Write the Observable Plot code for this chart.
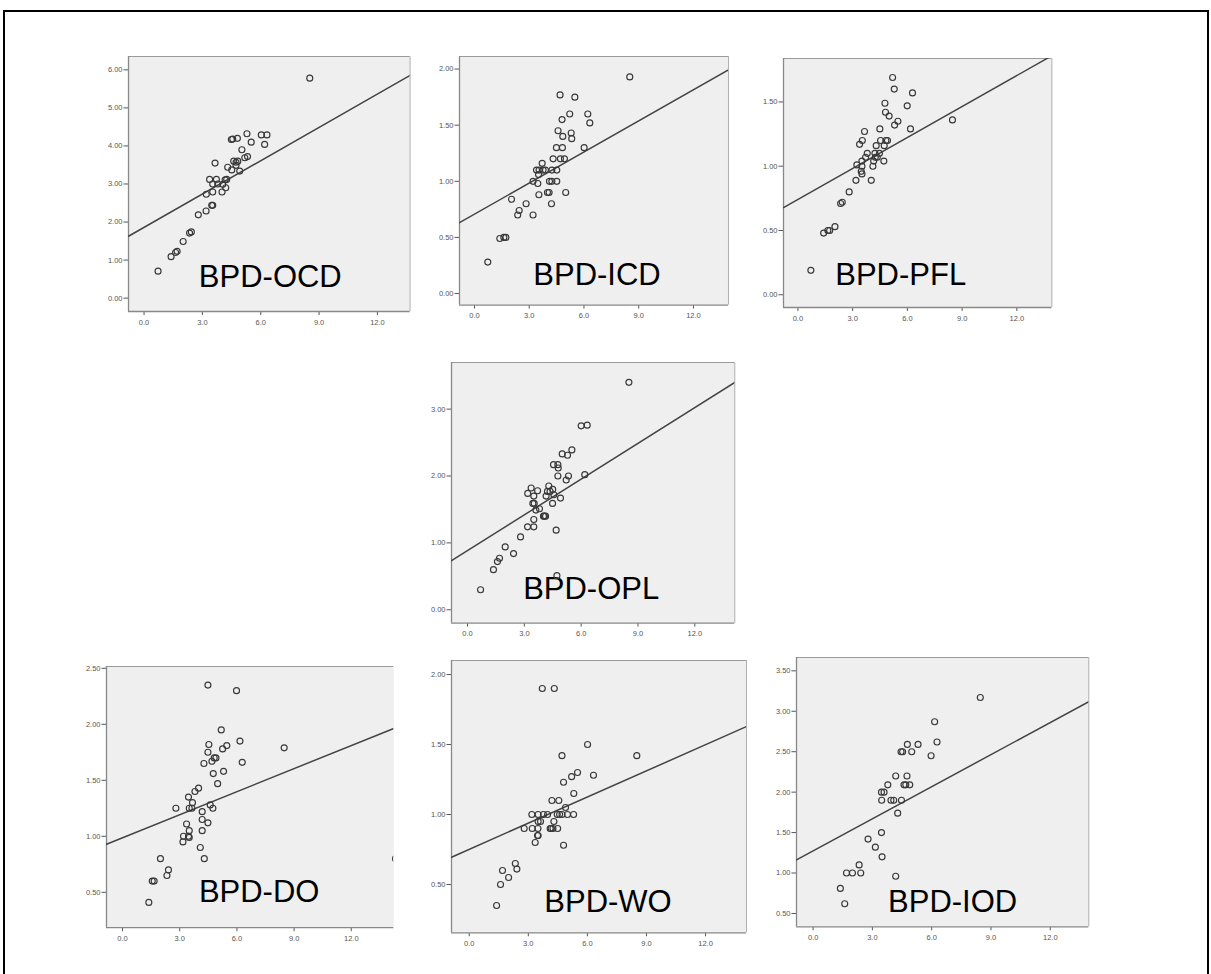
<!DOCTYPE html>
<html>
<head>
<meta charset="utf-8">
<script src="https://cdn.jsdelivr.net/npm/d3@7"></script>
<script src="https://cdn.jsdelivr.net/npm/@observablehq/plot@0.6"></script>
<style>
html, body { margin: 0; padding: 0; background: #fff; overflow: hidden; width: 1211px; height: 974px; }
#border { position: absolute; left: 3px; top: 10px; width: 1202px; height: 1000px; border: 2px solid #000; }
.panel { position: absolute; }
</style>
</head>
<body>
<div id="border"></div>
<div id="root"></div>
<script>
// ---------------- data ----------------
const xTicks = [0, 3, 6, 9, 12];

const ocd = [[0.72,0.71],[1.39,1.09],[1.62,1.20],[1.70,1.23],[2.01,1.49],[2.34,1.71],[2.43,1.74],[2.79,2.19],[3.19,2.29],[3.48,2.44],[3.53,2.44],[3.20,2.73],[3.53,2.79],[3.37,3.12],[3.53,3.00],[3.72,3.12],[3.79,3.00],[3.65,3.55],[4.01,2.79],[4.05,2.99],[4.17,3.11],[4.25,3.12],[4.20,2.90],[4.30,3.44],[4.51,3.37],[4.61,3.60],[4.73,3.57],[4.82,3.60],[4.73,3.49],[4.49,4.17],[4.56,4.18],[4.80,4.20],[4.92,3.34],[5.03,3.90],[5.18,3.69],[5.32,3.72],[5.29,4.32],[5.51,4.10],[6.03,4.29],[6.32,4.29],[6.20,4.04],[8.52,5.78]];
const ocdFit = [1.86, 0.292];
const ocdTicks = [0, 1, 2, 3, 4, 5, 6];

const icd = [[0.73,0.28],[1.39,0.49],[1.61,0.50],[1.72,0.50],[2.03,0.84],[2.45,0.74],[2.37,0.70],[2.83,0.80],[3.21,0.70],[3.21,1.00],[3.40,1.10],[3.47,0.98],[3.51,1.06],[3.54,1.10],[3.53,0.88],[3.71,1.16],[3.76,1.10],[3.89,1.10],[4.00,0.90],[4.09,0.90],[4.11,1.00],[4.24,1.00],[4.22,0.80],[4.24,1.10],[4.31,1.20],[4.51,1.00],[4.51,1.10],[4.49,1.30],[4.58,1.45],[4.69,1.77],[4.71,1.20],[4.82,1.30],[4.84,1.40],[4.80,1.55],[4.93,1.20],[5.00,0.90],[5.22,1.60],[5.30,1.43],[5.33,1.38],[5.50,1.75],[6.01,1.30],[6.21,1.60],[6.32,1.52],[8.51,1.93]];
const icdFit = [0.707, 0.0924];
const icdTicks = [0, 0.5, 1, 1.5, 2];

const pfl = [[0.71,0.19],[1.41,0.48],[1.64,0.50],[1.74,0.50],[2.03,0.53],[2.34,0.71],[2.43,0.72],[2.81,0.80],[3.18,0.89],[3.23,1.01],[3.38,1.17],[3.53,1.20],[3.47,0.96],[3.51,0.94],[3.51,1.04],[3.51,1.00],[3.65,1.27],[3.71,1.07],[3.80,1.10],[4.02,0.89],[4.11,1.00],[4.15,1.04],[4.22,1.10],[4.24,1.07],[4.29,1.16],[4.35,1.07],[4.47,1.10],[4.49,1.29],[4.53,1.20],[4.73,1.16],[4.71,1.04],[4.77,1.49],[4.80,1.42],[4.82,1.20],[4.91,1.20],[5.00,1.39],[5.19,1.69],[5.28,1.60],[5.30,1.32],[5.48,1.35],[5.99,1.47],[6.17,1.29],[6.28,1.57],[8.47,1.36]];
const pflFit = [0.742, 0.0803];
const pflTicks = [0, 0.5, 1, 1.5];

const opl = [[0.69,0.30],[1.37,0.60],[1.58,0.72],[1.69,0.77],[1.99,0.94],[2.43,0.84],[2.80,1.09],[3.17,1.24],[3.50,1.24],[3.50,1.35],[3.18,1.74],[3.36,1.82],[3.50,1.70],[3.70,1.78],[3.45,1.59],[3.52,1.59],[3.61,1.49],[3.80,1.51],[4.01,1.40],[4.12,1.40],[4.06,1.40],[4.15,1.70],[4.22,1.77],[4.29,1.85],[4.36,1.77],[4.50,1.80],[4.49,1.59],[4.56,1.72],[4.54,2.17],[4.77,2.17],[4.79,2.12],[4.68,1.19],[4.72,0.51],[4.77,2.00],[4.91,1.67],[5.00,2.33],[5.21,1.94],[5.28,2.31],[5.33,2.00],[5.51,2.39],[6.00,2.75],[6.32,2.76],[6.19,2.02],[8.52,3.40]];
const oplFit = [0.884, 0.1783];
const oplTicks = [0, 1, 2, 3];

const doData = [[1.38,0.41],[1.56,0.60],[1.66,0.60],[1.99,0.80],[2.33,0.65],[2.41,0.70],[2.80,1.25],[3.17,0.95],[3.20,1.00],[3.36,1.11],[3.46,1.00],[3.50,0.99],[3.50,1.05],[3.46,1.35],[3.50,1.25],[3.64,1.25],[3.67,1.30],[3.80,1.40],[3.99,1.43],[4.08,0.90],[4.18,1.05],[4.18,1.15],[4.18,1.22],[4.29,0.80],[4.27,1.65],[4.48,1.12],[4.48,1.75],[4.53,1.82],[4.48,2.35],[4.60,1.28],[4.74,1.25],[4.69,1.67],[4.76,1.56],[4.81,1.70],[4.90,1.70],[4.99,1.47],[5.18,1.95],[5.25,1.78],[5.30,1.58],[5.47,1.81],[5.98,2.30],[6.16,1.85],[6.28,1.66],[8.48,1.79],[14.32,0.80]];
const doFit = [0.987, 0.0686];
const doTicks = [0.5, 1, 1.5, 2, 2.5];

const wo = [[1.39,0.35],[1.59,0.50],[1.69,0.60],[2.00,0.55],[2.34,0.65],[2.42,0.61],[2.79,0.90],[3.18,1.00],[3.20,0.90],[3.35,0.80],[3.47,0.85],[3.50,0.85],[3.49,0.90],[3.50,1.00],[3.50,0.95],[3.62,0.95],[3.77,1.00],[3.71,1.90],[3.98,1.00],[4.11,0.90],[4.16,0.90],[4.20,1.10],[4.25,0.90],[4.32,1.90],[4.30,0.95],[4.49,0.90],[4.47,1.00],[4.55,1.10],[4.59,1.00],[4.71,1.00],[4.71,1.42],[4.79,0.78],[4.79,1.23],[4.89,1.05],[4.99,1.00],[5.20,1.27],[5.30,1.00],[5.31,1.15],[5.50,1.30],[6.01,1.50],[6.31,1.28],[8.51,1.42]];
const woFit = [0.751, 0.0623];
const woTicks = [0.5, 1, 1.5, 2];

const iod = [[1.38,0.81],[1.60,0.62],[1.69,1.00],[1.99,1.00],[2.33,1.10],[2.41,1.00],[2.78,1.42],[3.15,1.32],[3.46,1.50],[3.49,1.20],[3.47,1.90],[3.46,2.00],[3.59,2.00],[3.78,2.09],[3.94,1.90],[4.08,1.90],[4.18,2.20],[4.18,0.96],[4.28,1.74],[4.47,1.90],[4.45,2.50],[4.53,2.50],[4.60,2.09],[4.69,2.09],[4.75,2.20],[4.77,2.59],[4.89,2.09],[4.99,2.50],[5.31,2.59],[5.97,2.45],[6.15,2.87],[6.27,2.62],[8.46,3.17]];
const iodFit = [1.274, 0.1322];
const iodTicks = [0.5, 1, 1.5, 2, 2.5, 3, 3.5];

// ---------------- layout (pixel frame of each panel) ----------------
const panels = [
  {name: "BPD-OCD", data: ocd, fit: ocdFit, yTicks: ocdTicks, frame: [127.7, 56, 409.3, 311], xDomain: [-0.80, 13.68], yDomain: [-0.35, 6.35], dx: 1, dy: -24},
  {name: "BPD-ICD", data: icd, fit: icdFit, yTicks: icdTicks, frame: [459, 55.7, 728, 304.3], xDomain: [-0.82, 13.92], yDomain: [-0.103, 2.112], dx: 3, dy: -20},
  {name: "BPD-PFL", data: pfl, fit: pflFit, yTicks: pflTicks, frame: [783.3, 57.7, 1051.7, 306.7], xDomain: [-0.79, 13.92], yDomain: [-0.099, 1.838], dx: -17, dy: -22},
  {name: "BPD-OPL", data: opl, fit: oplFit, yTicks: oplTicks, frame: [450.7, 361.7, 734, 622.3], xDomain: [-0.845, 14.11], yDomain: [-0.199, 3.697], dx: -2, dy: -24, mb: 22},
  {name: "BPD-DO", data: doData, fit: doFit, yTicks: doTicks, frame: [106, 665.5, 393.3, 926.7], xDomain: [-0.84, 14.23], yDomain: [0.184, 2.516], dx: 9, dy: -26, noRight: true},
  {name: "BPD-WO", data: wo, fit: woFit, yTicks: woTicks, frame: [451, 660, 746, 932.3], xDomain: [-0.90, 14.08], yDomain: [0.155, 2.10], dx: 9, dy: -21},
  {name: "BPD-IOD", data: iod, fit: iodFit, yTicks: iodTicks, frame: [796, 656.7, 1088.3, 926], xDomain: [-0.84, 13.95], yDomain: [0.335, 3.665], dx: 10, dy: -15}
];

const root = document.getElementById("root");
const FONT = "'Liberation Sans', Arial, sans-serif";

for (const p of panels) {
  const ml = 44, mr = 3, mt = 3, mb = p.mb ?? 28;
  const [L, T, R, B] = p.frame;
  const fw = R - L, fh = B - T;
  const [x0, x1] = p.xDomain;
  const [y0, y1] = p.yDomain;
  const pts = p.data.map(([x, y]) => ({x, y}));
  const fitLine = [x0, x1].map(x => ({x, y: p.fit[0] + p.fit[1] * x}));
  const marks = [
    Plot.frame({fill: "#efefef", stroke: "none"}),
    Plot.ruleY([y1], {stroke: "#9a9a9a", strokeWidth: 1.2}),
    p.noRight ? null : Plot.ruleX([x1], {stroke: "#b0b0b0", strokeWidth: 1}),
    Plot.ruleX([x0], {stroke: "#888", strokeWidth: 1.3}),
    Plot.ruleY([y0], {stroke: "#888", strokeWidth: 1.3}),
    Plot.line(fitLine, {x: "x", y: "y", stroke: "#444", strokeWidth: 1.5, clip: true}),
    Plot.text([p.name], {text: d => d, frameAnchor: "bottom", textAnchor: "middle", lineAnchor: "bottom", dx: p.dx, dy: p.dy, fontSize: 31, fill: "#000", fontFamily: FONT}),
    Plot.dot(pts, {x: "x", y: "y", r: 3, stroke: "#383838", strokeWidth: 1.15, fill: "none", clip: true})
  ];
  const chart = Plot.plot({
    width: ml + fw + mr,
    height: mt + fh + mb,
    marginLeft: ml, marginRight: mr, marginTop: mt, marginBottom: mb,
    style: {fontFamily: FONT, fontSize: "7.5px", color: "#555", background: "transparent", overflow: "hidden"},
    x: {domain: p.xDomain, ticks: xTicks, tickFormat: d3.format(".1f"), tickSize: 4, tickPadding: 4, label: null},
    y: {domain: p.yDomain, ticks: p.yTicks, tickFormat: d3.format(".2f"), tickSize: 4.5, tickPadding: 1.5, label: null},
    marks
  });
  const wrap = document.createElement("div");
  wrap.className = "panel";
  wrap.style.left = (L - ml) + "px";
  wrap.style.top = (T - mt) + "px";
  wrap.appendChild(chart);
  root.appendChild(wrap);
}
</script>
</body>
</html>
